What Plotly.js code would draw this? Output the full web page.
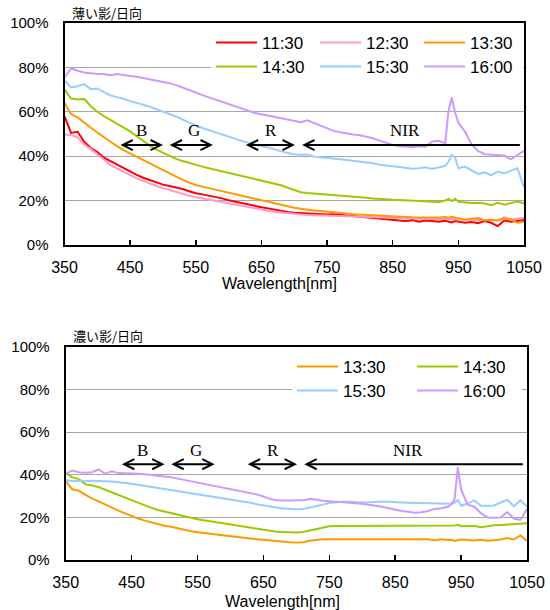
<!DOCTYPE html>
<html><head><meta charset="utf-8">
<script src="https://cdn.plot.ly/plotly-3.0.1.min.js"></script>
<style>html,body{margin:0;padding:0;background:#fff;}#chart{width:550px;height:610px;}</style>
</head><body><div id="chart"></div>
<script>
// Wavelength grid (nm)
const wavelength = [350,360,370,380,390,400,410,420,430,440,
  450,460,470,480,490,500,510,520,530,540,
  550,560,570,580,590,600,610,620,630,640,
  650,660,670,680,690,700,710,720,730,740,
  750,760,770,780,790,800,810,820,830,840,
  850,860,870,880,890,900,910,920,930,935,
  940,945,950,960,970,980,990,1000,1010,1020,
  1030,1040,1050];

// ---- Top chart: 薄い影/日向 (%)
const top1130 = [58,50.5,51,46.5,43.7,41.9,39.3,37.7,36.3,34.5,
  33.0,31.6,30.3,29.2,28.2,27.2,26.6,26.0,25.2,24.2,
  23.3,22.8,22.3,21.8,21.0,20.2,19.5,18.9,18.3,17.7,
  17.0,16.5,15.9,15.3,14.9,14.5,14.3,14.2,13.8,13.6,
  13.7,13.8,13.5,13.3,13.0,12.7,12.3,12.0,11.6,11.4,
  11.2,11.0,10.8,11.2,10.5,11.0,10.8,10.5,10.9,10.6,
  10.2,10.8,10.5,10.0,10.3,9.8,10.8,10.0,8.5,11.0,
  10.5,11.0,11.3];
const top1230 = [49.8,49.5,48.5,45.3,43.2,41.0,38.5,36.0,34.4,32.8,
  31.5,30.0,28.8,27.7,26.6,25.6,24.7,23.8,22.8,22.2,
  21.5,21.0,20.5,20.1,19.4,18.8,18.2,17.6,17.1,16.5,
  15.8,15.3,14.9,14.6,14.2,13.9,13.7,13.5,13.4,13.3,
  13.2,13.1,13.0,12.9,12.8,12.7,12.6,12.5,12.4,12.3,
  12.2,12.1,12.0,11.9,11.8,11.8,11.7,11.6,11.8,11.5,
  11.7,11.5,11.6,11.4,11.3,11.3,11.2,11.0,11.2,12.5,
  11.5,11.8,12.2];
const top1330 = [64,59,57.5,55.0,52.8,50.7,48.5,46.5,44.5,42.7,
  41.2,39.7,38.2,36.7,35.1,33.6,32.1,30.6,29.3,28.1,
  27.0,26.3,25.6,25.0,24.4,23.8,23.0,22.2,21.4,20.7,
  20.0,19.4,18.7,18.0,17.4,16.8,16.3,15.8,15.5,15.3,
  15.1,14.8,14.5,14.2,13.9,13.7,13.5,13.3,13.1,12.9,
  12.8,12.7,12.6,12.5,12.4,12.4,12.2,12.4,12.6,12.3,
  12.7,12.2,12.0,11.5,11.8,12.2,11.2,11.4,11.0,12.0,
  11.5,10.0,10.5];
const top1430 = [70,66,65.5,65.8,62.5,60,58,56.3,54.7,53,
  51.2,49,46.8,44.8,43,41.5,40,38.8,37.8,36.9,
  36.2,35.3,34.6,33.9,33.3,32.8,32.0,31.3,30.6,29.9,
  29.2,28.5,27.7,26.9,25.8,24.7,23.8,23.4,23.2,23.0,
  22.8,22.4,22.2,22.0,21.8,21.6,21.3,21.0,20.7,20.5,
  20.4,20.3,20.1,19.9,19.8,19.6,19.6,19.4,20.0,20.8,
  19.8,20.8,19.5,19.1,18.9,19.0,18.7,17.9,19.0,18.2,
  18.8,19.6,18.8];
const top1530 = [74.0,71.0,71.5,72.5,70.2,70.5,68.9,67.4,66.6,65.9,
  64.8,64.1,63.2,62.3,61.2,60.2,59.1,57.9,56.5,55.0,
  53.8,52.7,51.7,50.6,49.6,48.7,47.8,46.9,46.0,45.1,
  44.5,43.9,43.0,42.1,41.4,40.9,40.6,40.8,39.8,39.5,
  39.1,38.9,38.6,38.3,38.0,37.7,37.3,36.8,36.2,36.0,
  35.5,35.1,34.7,34.4,34.6,35.0,34.3,35.0,35.6,37.5,
  40.5,39.5,34.6,35.3,33.5,32.0,32.7,31.4,33.1,32.2,
  33.5,34.6,26.0];
const top1600 = [75.5,79.5,78.5,77.7,77.4,77.0,77.0,76.5,77.0,76.4,
  76.1,75.8,75.2,74.7,74.3,73.7,72.9,72.0,71.0,69.8,
  68.7,67.5,66.5,65.2,64.2,63.3,62.4,61.5,60.5,59.5,
  58.9,58.3,57.8,57.2,56.5,55.9,55.3,56.2,55.0,53.5,
  52.3,51.4,50.8,50.2,49.8,49.4,48.9,48.1,47.0,45.9,
  45.1,44.5,44.4,44.2,44.5,44.2,46.6,46.9,45.9,60.5,
  66.5,59.7,55.2,51.1,45.4,42.4,40.9,40.6,40.3,40.3,
  38.6,40.6,42.4];

// ---- Bottom chart: 濃い影/日向 (%)
const bot1330 = [37.0,33.2,32.5,30.5,28.8,27.5,26.0,24.5,23.2,21.9,
  20.6,19.5,18.5,17.6,16.7,16.1,15.6,14.8,14.2,13.5,
  13.0,12.6,12.2,11.8,11.4,11.1,10.8,10.5,10.1,9.8,
  9.5,9.1,8.7,8.4,8.3,8.2,8.3,9.0,9.5,9.7,
  9.7,9.7,9.7,9.7,9.7,9.7,9.7,9.7,9.7,9.7,
  9.7,9.7,9.7,9.7,9.7,9.7,9.3,9.7,9.4,9.5,
  8.9,9.3,9.6,9.4,9.2,9.5,9.0,9.3,9.6,10.3,
  9.6,11.5,9.0];
const bot1430 = [40.8,38.8,38.0,35.5,35.0,34.2,33.0,31.8,30.5,29.2,
  28.0,26.7,25.5,24.5,23.5,22.7,22.0,21.1,20.5,19.8,
  19.1,18.6,18.0,17.5,17.0,16.6,16.1,15.6,15.1,14.6,
  14.1,13.7,13.3,13.1,12.9,12.9,13.1,13.8,14.6,15.3,
  15.8,16.0,16.0,16.0,16.0,16.0,16.0,16.0,16.0,16.0,
  16.0,16.0,16.0,16.0,16.0,16.0,16.1,16.0,16.3,16.0,
  16.2,16.5,15.9,16.0,16.0,15.4,16.0,16.3,16.4,16.6,
  16.8,16.9,17.3];
const bot1530 = [37.6,37.0,37.2,37.0,37.2,37.2,37.0,36.8,36.6,36.2,
  35.8,35.3,34.8,34.3,33.8,33.4,33.0,32.6,32.1,31.6,
  31.1,30.6,30.1,29.6,29.1,28.5,28.0,27.4,26.9,26.2,
  25.6,25.1,24.6,24.2,23.9,23.8,23.9,24.5,25.3,26.0,
  26.8,27.2,27.3,27.3,27.1,27.0,27.1,27.3,27.5,27.3,
  27.0,27.0,26.9,26.8,26.8,26.7,26.6,26.5,26.4,26.4,
  26.8,28.2,25.5,26.5,28.0,25.5,25.5,25.6,27.0,28.3,
  25.2,28.0,25.0];
const bot1600 = [40.5,42.0,41.2,41.0,41.2,42.5,40.5,41.7,40.8,40.8,
  40.7,40.5,40.3,40.0,39.6,39.2,38.8,38.2,37.6,37.1,
  36.4,35.8,35.1,34.5,33.9,33.3,32.7,32.1,31.5,30.8,
  29.8,28.7,28.1,27.9,27.9,28.0,28.0,28.6,28.4,27.8,
  27.5,27.3,27.1,26.9,26.6,26.4,26.0,25.7,25.0,24.3,
  23.6,23.0,22.6,22.2,22.4,23.0,24.0,24.3,25.0,26.0,
  28.5,43.5,33.0,26.0,25.0,22.0,20.0,19.8,20.0,22.5,
  19.5,18.8,24.0];

const topNames = ['11:30','12:30','13:30','14:30','15:30','16:00'];
const topSeries = [top1130, top1230, top1330, top1430, top1530, top1600];
const topColors = ['#ff0000','#ff99cc','#ff9900','#99cc00','#99ccff','#cc99ff'];
const topLegends = ['legend','legend','legend','legend2','legend2','legend2'];

const botNames = ['13:30','14:30','15:30','16:00'];
const botSeries = [bot1330, bot1430, bot1530, bot1600];
const botColors = ['#ff9900','#99cc00','#99ccff','#cc99ff'];
const botLegends = ['legend3','legend4','legend5','legend6'];

// Spectral band arrows
const bandNames = ['B','G','R'];
const bandStart = [433, 508, 624];
const bandEnd = [500, 576, 701];
const bandLabelX = [467, 547, 665];
const nirStart = 712, nirEnd = 1046, nirLabelX = 869;
const arrowLevel = 45, labelLevel = 51.5;

const W = 550, H = 610;
const FONT = 'Liberation Sans, Arial, sans-serif';

const traces = [];
topSeries.forEach((s, i) => traces.push({
  x: wavelength, y: s, type: 'scatter', mode: 'lines', name: topNames[i],
  line: {color: topColors[i], width: 2}, xaxis: 'x', yaxis: 'y', legend: topLegends[i]
}));
botSeries.forEach((s, i) => traces.push({
  x: wavelength, y: s, type: 'scatter', mode: 'lines', name: botNames[i],
  line: {color: botColors[i], width: 2}, xaxis: 'x2', yaxis: 'y2', legend: botLegends[i]
}));

function xAx(dom, anchor) {
  return {domain: dom, anchor: anchor, range: [350, 1050], tick0: 350, dtick: 100,
    ticks: 'inside', ticklen: 5, tickwidth: 1.5, tickcolor: '#000',
    showline: true, linecolor: '#000', linewidth: 2, mirror: true,
    showgrid: false, zeroline: false, ticklabelstandoff: 7,
    tickfont: {family: FONT, size: 16, color: '#000'}};
}
function yAx(dom, anchor) {
  return {domain: dom, anchor: anchor, range: [0, 100], tick0: 0, dtick: 20, ticksuffix: '%',
    ticks: '', showline: true, linecolor: '#000', linewidth: 2, mirror: true,
    showgrid: true, gridcolor: '#a6a6a6', gridwidth: 1, zeroline: false,
    ticklabelstandoff: 11, tickfont: {family: FONT, size: 15, color: '#000'}};
}
function leg(xpx, ypx, ew) {
  return {x: xpx / W, xanchor: 'left', y: 1 - ypx / H, yanchor: 'middle',
    orientation: 'h', entrywidth: ew, entrywidthmode: 'pixels', itemwidth: 41,
    bgcolor: '#ffffff', borderwidth: 0, font: {family: FONT, size: 17, color: '#000'},
    traceorder: 'normal'};
}

const annotations = [
  {text: '薄い影/日向', xref: 'paper', yref: 'paper', x: 70 / W, y: 1 - 13 / H, xanchor: 'left', yanchor: 'middle',
   showarrow: false, font: {family: 'Noto Sans CJK JP', size: 13, color: '#000'}},
  {text: '濃い影/日向', xref: 'paper', yref: 'paper', x: 71 / W, y: 1 - 335 / H, xanchor: 'left', yanchor: 'middle',
   showarrow: false, font: {family: 'Noto Sans CJK JP', size: 13, color: '#000'}},
  {text: 'Wavelength[nm]', xref: 'paper', yref: 'paper', x: 280 / W, y: 1 - 283 / H, xanchor: 'center', yanchor: 'middle',
   showarrow: false, font: {family: FONT, size: 16, color: '#000'}},
  {text: 'Wavelength[nm]', xref: 'paper', yref: 'paper', x: 282 / W, y: 1 - 601 / H, xanchor: 'center', yanchor: 'middle',
   showarrow: false, font: {family: FONT, size: 16, color: '#000'}}
];
[['x','y'],['x2','y2']].forEach(([xr, yr]) => {
  bandNames.forEach((b, i) => {
    annotations.push({xref: xr, yref: yr, axref: xr, ayref: yr, x: bandEnd[i], y: arrowLevel,
      ax: bandStart[i], ay: arrowLevel, text: '', showarrow: true, arrowside: 'end+start',
      arrowhead: 5, startarrowhead: 5, arrowsize: 1, startarrowsize: 1, arrowwidth: 2, arrowcolor: '#000'});
    annotations.push({xref: xr, yref: yr, x: bandLabelX[i], y: labelLevel, text: b, showarrow: false,
      font: {family: 'Liberation Serif, Times New Roman, serif', size: 17, color: '#000'}});
  });
  annotations.push({xref: xr, yref: yr, axref: xr, ayref: yr, x: nirStart, y: arrowLevel,
    ax: nirEnd, ay: arrowLevel, text: '', showarrow: true, arrowside: 'end',
    arrowhead: 5, arrowsize: 1, arrowwidth: 2, arrowcolor: '#000'});
  annotations.push({xref: xr, yref: yr, x: nirLabelX, y: labelLevel, text: 'NIR', showarrow: false,
    font: {family: 'Liberation Serif, Times New Roman, serif', size: 17, color: '#000'}});
});

const layout = {
  width: W, height: H, margin: {l: 0, r: 0, t: 0, b: 0},
  paper_bgcolor: '#fff', plot_bgcolor: '#fff', showlegend: true,
  font: {family: FONT, color: '#000'},
  xaxis: xAx([64.5 / W, 524 / W], 'y'),
  yaxis: yAx([1 - 245 / H, 1 - 23 / H], 'x'),
  xaxis2: xAx([65.7 / W, 527 / W], 'y2'),
  yaxis2: yAx([1 - 560 / H, 1 - 347 / H], 'x2'),
  legend: leg(211, 43, 48),
  legend2: leg(211, 67, 48),
  legend3: leg(292, 367, 64),
  legend4: leg(412, 367, 54),
  legend5: leg(292, 391, 64),
  legend6: leg(412, 391, 54),
  annotations: annotations
};

Plotly.newPlot('chart', traces, layout, {staticPlot: true, displayModeBar: false});
</script>
</body></html>
